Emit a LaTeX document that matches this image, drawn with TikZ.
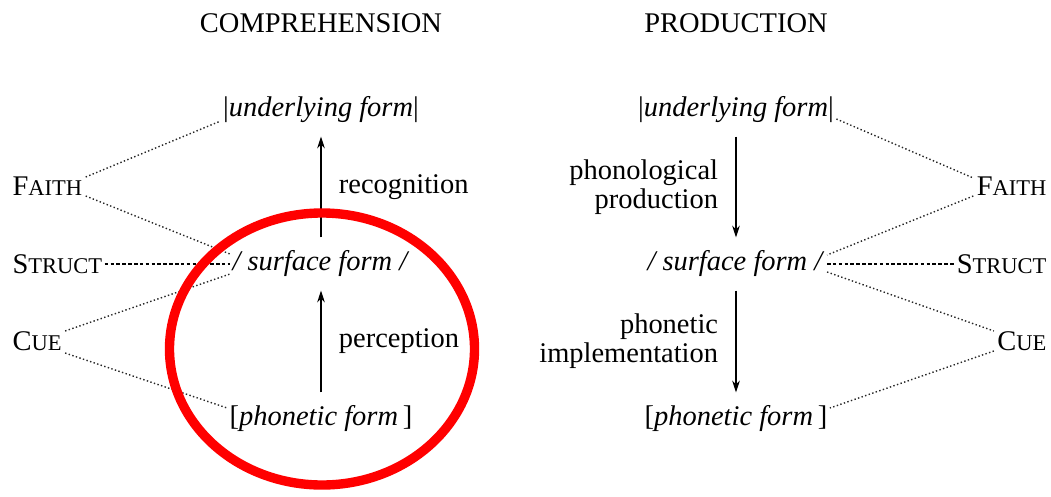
\documentclass[tikz,border=0pt]{standalone}
\usepackage{fontspec}
\setmainfont{Liberation Serif}
\usetikzlibrary{positioning, arrows.meta}
\newcommand{\fakesc}[2]{#1{\fontsize{19.2}{20}\selectfont #2}}
\tikzset{
  form/.style={inner xsep=2pt, inner ysep=11pt, text height=17pt, text depth=6pt},
  conl/.style={inner sep=2pt, anchor=west},
  conr/.style={inner sep=2pt, anchor=east},
  arr/.style={-{Stealth[length=10pt, width=6.5pt]}, line width=1.2pt},
  link/.style={dotted, line width=1.2pt, black!85},
  slink/.style={densely dashed, line width=0.9pt},
  ring/.style={draw=red, line width=8pt},
}
\begin{document}
\begin{tikzpicture}[x=0.03cm, y=-0.03cm,
                    every node/.style={font=\fontsize{24.3}{25}\selectfont}]
    \useasboundingbox (0,0) rectangle (1051,496);
    % titles
    \node (compTitle) at (321,23) {COMPREHENSION};
    \node (prodTitle) at (736,23) {PRODUCTION};
    % comprehension side
    \node[form] (ulL) at (321,110) {|\textit{underlying form}|};
    \node[form] (sfL) at (321,264) {\textit{/ surface form /}};
    \node[form] (pfL) at (321,419) {[\textit{phonetic form}\,]};
    \node[conl] (faithL) at (10,186) {\fakesc{F}{AITH}};
    \node[conl] (structL) at (10,264) {\fakesc{S}{TRUCT}};
    \node[conl] (cueL) at (10,341) {\fakesc{C}{UE}};
    \draw[arr] (sfL) -- node[right=0.4cm] {recognition} (ulL);
    \draw[arr] (pfL) -- node[right=0.4cm] {perception} (sfL);
    \draw[link] ([shift={(1,-9)}]faithL.east) -- ([shift={(0,11)}]ulL.west);
    \draw[link] ([shift={(1,10)}]faithL.east) -- ([shift={(0,-10)}]sfL.west);
    \draw[slink] (structL) -- (sfL);
    \draw[link] ([shift={(1,-10)}]cueL.east) -- ([shift={(0,10)}]sfL.west);
    \draw[link] ([shift={(1,12)}]cueL.east) -- ([shift={(0,-11)}]pfL.west);
    % production side
    \node[form] (ulR) at (736,110) {|\textit{underlying form}|};
    \node[form] (sfR) at (736,264) {\textit{/ surface form /}};
    \node[form] (pfR) at (736,419) {[\textit{phonetic form}\,]};
    \node[conr] (faithR) at (1049,186) {\fakesc{F}{AITH}};
    \node[conr] (structR) at (1049,264) {\fakesc{S}{TRUCT}};
    \node[conr] (cueR) at (1049,341) {\fakesc{C}{UE}};
    \draw[arr] (ulR) -- node[left=0.4cm, align=right] {phonological\\production} (sfR);
    \draw[arr] (sfR) -- node[left=0.4cm, align=right] {phonetic\\implementation} (pfR);
    \draw[link] ([shift={(0,9)}]ulR.east) -- ([shift={(-1,-8)}]faithR.west);
    \draw[link] ([shift={(-1,10)}]faithR.west) -- ([shift={(0,-9)}]sfR.east);
    \draw[slink] (sfR) -- (structR);
    \draw[link] ([shift={(0,8)}]sfR.east) -- ([shift={(-1,-10)}]cueR.west);
    \draw[link] ([shift={(-1,10)}]cueR.west) -- ([shift={(0,-11)}]pfR.east);
    % highlight
    \draw[ring] (322,349) ellipse [x radius=152.5, y radius=136];
\end{tikzpicture}
\end{document}
